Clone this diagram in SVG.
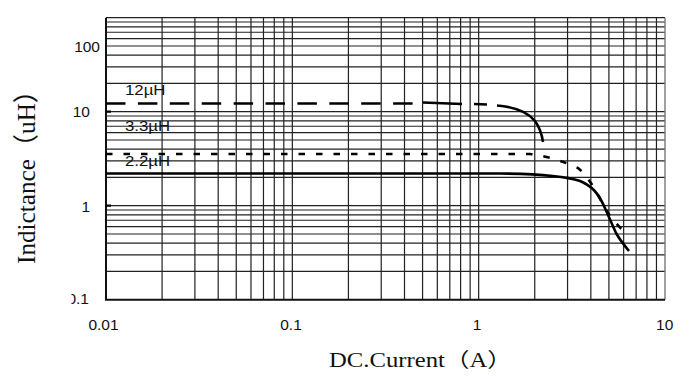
<svg xmlns="http://www.w3.org/2000/svg" width="691" height="376" viewBox="0 0 691 376">
<style>
.g{stroke:#222;stroke-width:1.2;fill:none}
.ax{stroke:#111;stroke-width:2;fill:none}
.c{stroke:#000;stroke-width:2.6;fill:none;stroke-linecap:butt}
.t{font-family:"Liberation Sans",Arial,sans-serif;font-size:15.5px;fill:#111}
.l{font-family:"Liberation Sans",Arial,sans-serif;font-size:14.4px;fill:#111}
.ti{font-family:"Liberation Serif","Noto Sans CJK SC",serif;fill:#111}
</style>
<rect width="691" height="376" fill="#fff"/>
<g id="grid">
<path class="g" d="M162.09,17.7V299.7M194.9,17.7V299.7M218.18,17.7V299.7M236.24,17.7V299.7M250.99,17.7V299.7M263.47,17.7V299.7M274.27,17.7V299.7M283.81,17.7V299.7M292.33,17.7V299.7M348.42,17.7V299.7M381.23,17.7V299.7M404.51,17.7V299.7M422.57,17.7V299.7M437.32,17.7V299.7M449.8,17.7V299.7M460.6,17.7V299.7M470.14,17.7V299.7M478.66,17.7V299.7M534.75,17.7V299.7M567.56,17.7V299.7M590.84,17.7V299.7M608.9,17.7V299.7M623.65,17.7V299.7M636.13,17.7V299.7M646.93,17.7V299.7M656.47,17.7V299.7"/>
<path class="g" d="M106,271.4H665M106,254.85H665M106,243.11H665M106,234H665M106,226.55H665M106,220.26H665M106,214.81H665M106,210H665M106,205.7H665M106,177.4H665M106,160.85H665M106,149.11H665M106,140H665M106,132.55H665M106,126.26H665M106,120.81H665M106,116H665M106,111.7H665M106,83.4H665M106,66.85H665M106,55.11H665M106,46H665M106,38.55H665M106,32.26H665M106,26.81H665M106,22H665M106,17.7H665"/>
<path d="M665,17.7V299.7" stroke="#777" stroke-width="1.4"/>
<path class="ax" d="M106,17.7V300.7M105,299.7H665"/>
<path d="M106,111.7H111M106,205.7H111" stroke="#000" stroke-width="2.2"/>
</g>
<g id="curves">
<path class="c" stroke-dasharray="19.5 12.4" d="M106,103.5H413"/>
<path class="c" d="M423,102.5L462,104M474,104L487,104.5M497,105.5C515,107 528,112 535,121C540,128 542,135 543,142"/>
<path class="c" stroke-dasharray="6.5 11" d="M106,154H530C548,156 565,162 578,168C590,178 598,195 605,208C612,220 620,228 628,235"/>
<path class="c" d="M106,173.5H500C540,174 565,176 580,181C592,186 598,193 604,206L616,233C620,240 624,245 629,251"/>
</g>
<g id="curve-labels">
<text class="l" x="125" y="95.3" textLength="40.5" lengthAdjust="spacingAndGlyphs">12µH</text>
<text class="l" x="125" y="130.5" textLength="45" lengthAdjust="spacingAndGlyphs">3.3µH</text>
<text class="l" x="125" y="166.3" textLength="45" lengthAdjust="spacingAndGlyphs">2.2µH</text>
</g>
<g id="y-ticks" class="t" text-anchor="end">
<text x="100" y="51.5">100</text>
<text x="90" y="116.7">10</text>
<text x="90" y="211.7">1</text>
<clipPath id="cl"><rect x="71.5" y="280" width="30" height="30"/></clipPath>
<text x="89" y="304.3" clip-path="url(#cl)">0.1</text>
</g>
<g id="x-ticks" class="t" text-anchor="middle">
<text x="103.5" y="330">0.01</text>
<text x="291" y="330">0.1</text>
<text x="477" y="330">1</text>
<text x="664.7" y="330">10</text>
</g>
<g id="titles">
<text class="ti" x="329" y="366.7" font-size="20" textLength="183" lengthAdjust="spacingAndGlyphs">DC.Current（A）</text>
<text class="ti" transform="translate(35,264) rotate(-90)" x="0" y="0" font-size="26" textLength="186" lengthAdjust="spacingAndGlyphs">Indictance（uH）</text>
</g>
</svg>
